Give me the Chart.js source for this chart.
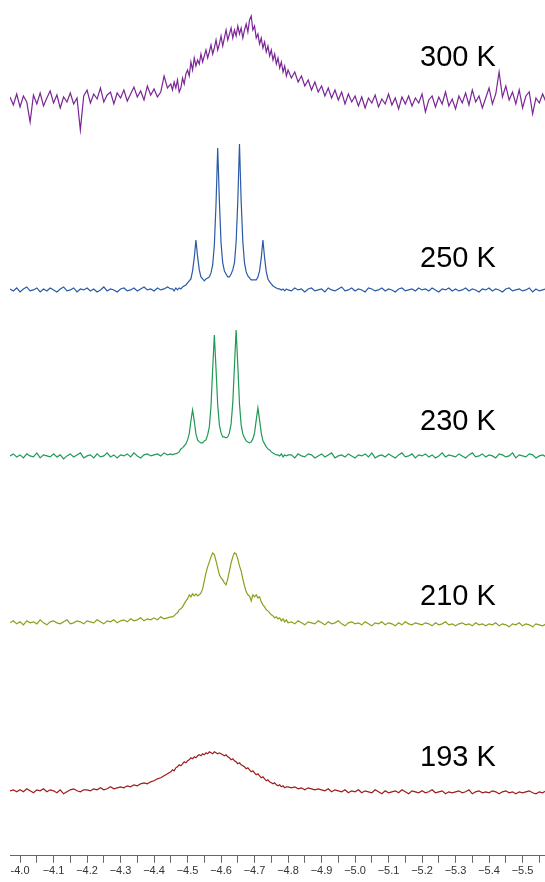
<!DOCTYPE html>
<html>
<head>
<meta charset="utf-8">
<script src="https://cdn.jsdelivr.net/npm/chart.js@4.4.1/dist/chart.umd.min.js"></script>
<style>
    html, body { margin: 0; padding: 0; background: #ffffff; }
    #wrap { position: relative; width: 545px; height: 882px; }
</style>
</head>
<body>
<div id="wrap"><canvas id="myChart"></canvas></div>
<script>
/* chemical shift (ppm), shared by all spectra */
const shift = [
    -3.97, -3.98, -3.99,
    -4.00, -4.01, -4.02, -4.03, -4.04, -4.05, -4.06, -4.07, -4.08, -4.09,
    -4.10, -4.11, -4.12, -4.13, -4.14, -4.15, -4.16, -4.17, -4.18, -4.19,
    -4.20, -4.21, -4.22, -4.23, -4.24, -4.25, -4.26, -4.27, -4.28, -4.29,
    -4.30, -4.31, -4.32, -4.33, -4.34, -4.35, -4.36, -4.37, -4.38, -4.39,
    -4.40, -4.41, -4.42, -4.43, -4.44, -4.45,
    -4.455, -4.46, -4.465, -4.47, -4.475, -4.48, -4.485, -4.49, -4.495, -4.50,
    -4.505, -4.51, -4.515, -4.52, -4.525, -4.53, -4.535, -4.54, -4.545, -4.55,
    -4.555, -4.56, -4.565, -4.57, -4.575, -4.58, -4.585, -4.59, -4.595, -4.60,
    -4.605, -4.61, -4.615, -4.62, -4.625, -4.63, -4.635, -4.64, -4.645, -4.65,
    -4.655, -4.66, -4.665, -4.67, -4.675, -4.68, -4.685, -4.69, -4.695, -4.70,
    -4.705, -4.71, -4.715, -4.72, -4.725, -4.73, -4.735, -4.74, -4.745, -4.75,
    -4.755, -4.76, -4.765, -4.77, -4.775, -4.78, -4.785, -4.79, -4.795, -4.80,
    -4.81, -4.82, -4.83, -4.84, -4.85, -4.86, -4.87, -4.88, -4.89,
    -4.90, -4.91, -4.92, -4.93, -4.94, -4.95, -4.96, -4.97, -4.98, -4.99,
    -5.00, -5.01, -5.02, -5.03, -5.04, -5.05, -5.06, -5.07, -5.08, -5.09,
    -5.10, -5.11, -5.12, -5.13, -5.14, -5.15, -5.16, -5.17, -5.18, -5.19,
    -5.20, -5.21, -5.22, -5.23, -5.24, -5.25, -5.26, -5.27, -5.28, -5.29,
    -5.30, -5.31, -5.32, -5.33, -5.34, -5.35, -5.36, -5.37, -5.38, -5.39,
    -5.40, -5.41, -5.42, -5.43, -5.44, -5.45, -5.46, -5.47, -5.48, -5.49,
    -5.50, -5.51, -5.52, -5.53, -5.54, -5.55, -5.56, -5.57
];

/* intensities (arbitrary units) */
const k300 = [
    3, -5, 6,
    -7, 4, -2, -22, 5, -4, 7, -6, 2, 9,
    -3, 5, -8, 3, -2, 7, -4, 2, -30, 4,
    10, -3, 6, 1, 12, -2, 5, 8, -4, 7,
    2, 10, -1, 6, 13, 3, 9, 0, 14, 5,
    11, 3, 8, 24, 12, 16,
    10, 18, 12, 20, 8, 12, 22, 16, 26, 30,
    24, 38, 30, 42, 34, 40, 36, 46, 38, 44,
    50, 42, 48, 55, 46, 52, 60, 50, 56, 64,
    54, 62, 70, 60, 66, 72, 62, 70, 64, 74,
    66, 72, 62, 70, 76, 68, 80, 84, 70, 74,
    62, 66, 56, 62, 52, 58, 48, 54, 44, 50,
    40, 46, 36, 42, 32, 38, 28, 34, 24, 30,
    22, 28, 18, 24, 14, 20, 10, 18, 8,
    14, 4, 12, 2, 10, 0, 8, -4, 6, -2,
    4, -6, 3, -8, 2, -3, 5, -7, 1, -4,
    6, -5, 2, -9, 3, -4, 4, -6, 2, -3,
    6, -12, 0, 4, -7, 3, -4, 8, -6, 1,
    -9, 4, -3, 7, -5, 10, -2, 4, -8, 2,
    12, -4, 6, 28, 3, 14, 0, 8, -4, 10,
    -8, 4, 8, -14, 2, -3, 6, -2
];

const k250 = [
    1, -1, 2,
    -2, 1, 3, -1, 0, 2, -2, 1, -1, 2,
    0, -2, 1, 3, -1, 0, 2, -2, 1, 0,
    2, -1, 1, -2, 0, 3, -1, 1, 0, -2,
    1, 2, -1, 0, 2, -1, 1, 3, 0, 1,
    -1, 2, 0, 1, 3, 1,
    1, -1, 2, 0, 2, 1, 3, 4, 5, 7,
    9, 11, 19, 32, 50, 33, 20, 13, 11, 9,
    11, 12, 13, 17, 25, 45, 86, 142, 89, 47,
    27, 19, 16, 13, 13, 16, 20, 27, 48, 89,
    146, 89, 48, 27, 18, 14, 12, 10, 10, 10,
    10, 13, 19, 32, 50, 32, 18, 11, 8, 6,
    4, 3, 2, 1, 1, 0, 1, -1, 1, 0,
    -1, 2, 0, 1, -2, 1, 2, -1, 0,
    1, -2, 2, 0, -1, 1, 3, -1, 0, 2,
    -1, 1, 0, -2, 2, 1, -1, 0, 2, -1,
    1, 0, -2, 1, 2, -1, 0, 1, -1, 2,
    0, 1, -1, 2, 0, -2, 1, 0, 2, -1,
    1, -1, 0, 2, -1, 1, 0, -2, 1, 0,
    2, -1, 1, 0, -2, 1, 2, -1, 0, 1,
    -1, 0, 2, -2, 1, -1, 0, 1
];

const k230 = [
    0, 2, -1,
    1, -2, 2, 0, -1, 3, -2, 1, 0, -1,
    2, -1, 1, -3, 0, 2, -1, 1, 3, -2,
    0, 1, -2, 2, -1, 0, 3, -1, 1, -2,
    1, 0, 2, -1, 3, 0, -2, 1, 2, 0,
    1, 2, 0, 3, 1, 2,
    1, 2, 2, 3, 4, 7, 8, 10, 12, 16,
    22, 35, 46, 35, 22, 16, 14, 13, 13, 15,
    16, 21, 29, 50, 87, 121, 87, 51, 31, 23,
    19, 19, 18, 19, 23, 32, 53, 90, 126, 91,
    52, 31, 22, 18, 15, 14, 13, 14, 17, 23,
    36, 48, 36, 23, 15, 12, 9, 7, 6, 4,
    3, 2, 1, 1, 0, 2, -1, 1, 0, 1,
    1, -2, 2, 0, -1, 2, 1, -2, 0,
    2, -1, 1, 3, -2, 0, 1, -1, 2, 0,
    -2, 1, 0, 2, -1, 3, -2, 0, 1, -1,
    2, 0, -2, 1, 3, -1, 0, 2, -2, 1,
    0, 2, -1, 1, -2, 0, 3, -1, 1, 0,
    -1, 2, 0, -2, 1, 3, -1, 0, 2, -1,
    1, 0, -2, 2, 1, -1, 0, 3, -2, 1,
    0, -1, 2, 1, -2, 0, 1, -1
];

const k210 = [
    0, 2, -1,
    1, -2, 2, 0, 1, -1, 3, 0, -2, 1,
    2, 0, -1, 1, 3, -1, 0, 2, 1, -1,
    2, 1, 0, 3, 1, -1, 2, 1, 3, 0,
    2, 3, 1, 4, 2, 3, 5, 2, 4, 3,
    5, 3, 6, 4, 5, 6,
    6, 7, 9, 10, 13, 14, 16, 19, 22, 24,
    28, 26, 29, 27, 29, 27, 28, 30, 34, 42,
    50, 56, 61, 66, 70, 68, 62, 55, 48, 45,
    43, 40, 38, 44, 52, 60, 66, 70, 69, 64,
    57, 52, 44, 37, 31, 28, 27, 22, 28, 26,
    28, 25, 26, 21, 18, 16, 13, 12, 10, 8,
    7, 5, 6, 4, 5, 2, 4, 1, 3, 0,
    1, -1, 2, 0, -2, 1, 0, -1, 2,
    0, -2, 1, -1, 0, 2, -1, -3, 0, 1,
    -1, 0, -2, 1, -1, -3, 0, -1, 1, -2,
    0, -1, -3, 0, -2, 1, -1, -2, 0, -1,
    -2, 0, -1, -3, 0, -2, -1, 1, -2, -1,
    -3, -1, 0, -2, -1, -3, 0, -2, -1, -3,
    -1, -2, 0, -3, -1, -2, -4, -1, -2, 0,
    -3, -1, -2, -4, -1, -2, -3, -1
];

const k193 = [
    0, 1, -1,
    1, -1, 2, 0, -2, 1, 0, 2, -1, 1,
    0, -2, 1, -3, -1, 1, 2, 0, -1, 1,
    1, 0, 2, 1, 3, 1, 2, 4, 2, 3,
    4, 3, 5, 4, 6, 5, 7, 8, 7, 9,
    10, 12, 13, 15, 17, 19,
    21, 20, 23, 24, 26, 25, 27, 29, 28, 30,
    31, 33, 32, 34, 33, 35, 36, 35, 37, 36,
    38, 37, 39, 38, 37, 39, 38, 37, 38, 37,
    36, 35, 36, 34, 33, 31, 32, 30, 29, 27,
    28, 26, 25, 24, 22, 23, 21, 19, 20, 18,
    16, 17, 15, 13, 14, 12, 10, 11, 9, 8,
    7, 8, 6, 5, 6, 4, 5, 3, 4, 4,
    3, 4, 2, 3, 1, 3, 2, 1, 2,
    1, 0, 2, -1, 1, 0, -1, 1, -2, 0,
    -1, 1, -2, 0, -1, -2, 1, -1, -3, 0,
    -2, -1, 0, -2, 1, -1, -3, 0, -1, -2,
    0, -2, -1, 1, -2, -1, 0, -3, -1, -2,
    -1, 0, -2, -1, 1, -3, -1, 0, -2, -1,
    -2, 0, -1, -3, -1, 0, -2, -1, -3, -1,
    -2, -1, 0, -2, -3, -1, -2, 0
];

const temps = ['300 K', '250 K', '230 K', '210 K', '193 K'];
const tickValues = [-4.0, -4.1, -4.2, -4.3, -4.4, -4.5, -4.6, -4.7, -4.8, -4.9, -5.0, -5.1, -5.2, -5.3, -5.4, -5.5];

/* one stacked y axis per spectrum, top to bottom */
const bands = [
    { id: 'y300', values: k300, color: '#7b2596', min: -35, max: 100, weight: 135, labelLift: 34 },
    { id: 'y250', values: k250, color: '#2a5aa6', min: -10, max: 155, weight: 165, labelLift: 23 },
    { id: 'y230', values: k230, color: '#1f9a55', min: -12, max: 156, weight: 168, labelLift: 26 },
    { id: 'y210', values: k210, color: '#8c9e1c', min: -17, max: 155, weight: 172, labelLift: 18 },
    { id: 'y193', values: k193, color: '#9c1c1c', min: -65, max: 151, weight: 216, labelLift: 25 }
];
const labelShift = -5.194;

function toPoints(values) {
    let pts = [];
    for (let i = 0; i < shift.length; i++) {
        pts.push({ x: shift[i], y: values[i] });
    }
    return pts;
}

let datasets = [];
let scales = {
    x: {
        type: 'linear',
        position: 'bottom',
        reverse: true,
        min: -5.567,
        max: -3.970,
        afterBuildTicks: function (axis) {
            axis.ticks = axis.ticks.filter(function (t) {
                let v = t.value * 20;
                return Math.abs(v - Math.round(v)) < 1e-6;
            });
        },
        ticks: {
            stepSize: 0.05,
            includeBounds: false,
            autoSkip: false,
            maxRotation: 0,
            padding: 2,
            color: '#333333',
            font: { family: 'Liberation Sans, Arial', size: 11 },
            callback: function (value) {
                let hit = tickValues.find(function (t) { return Math.abs(t - value) < 1e-6; });
                if (hit === undefined) return '';
                let s = Math.abs(hit).toFixed(1);
                return (hit === -4.0 ? '-' : '\u2212') + s;
            }
        },
        grid: { display: true, drawOnChartArea: false, drawTicks: true, tickLength: 7, color: '#666666' },
        border: { display: true, color: '#666666', width: 1 }
    }
};

for (let i = 0; i < bands.length; i++) {
    let b = bands[i];
    if (b.values.length !== shift.length) console.error(b.id + ' length ' + b.values.length + ' vs ' + shift.length);
    datasets.push({
        label: temps[i],
        data: toPoints(b.values),
        yAxisID: b.id,
        borderColor: b.color,
        borderWidth: 1.2,
        pointRadius: 0,
        tension: 0,
        fill: false
    });
}

/* the layout stacks the last-added axis on top, so add them bottom-up */
for (let i = bands.length - 1; i >= 0; i--) {
    let b = bands[i];
    scales[b.id] = {
        type: 'linear',
        display: false,
        position: 'left',
        stack: 'nmr',
        stackWeight: b.weight,
        offset: false,
        min: b.min,
        max: b.max
    };
}

/* temperature labels next to each trace */
const tempLabelPlugin = {
    id: 'tempLabels',
    afterDatasetsDraw: function (chart) {
        let ctx = chart.ctx;
        ctx.save();
        ctx.fillStyle = '#000000';
        ctx.font = '29px "Liberation Sans", Arial, sans-serif';
        ctx.textAlign = 'left';
        ctx.textBaseline = 'alphabetic';
        let px = chart.scales.x.getPixelForValue(labelShift);
        for (let i = 0; i < bands.length; i++) {
            let py = chart.scales[bands[i].id].getPixelForValue(bands[i].labelLift);
            ctx.fillText(temps[i], px, py);
        }
        ctx.restore();
    }
};

let ctx = document.getElementById('myChart').getContext('2d');

let myChart = new Chart(ctx, {
    type: 'line',
    data: { datasets: datasets },
    options: {
        responsive: true,
        maintainAspectRatio: false,
        animation: false,
        parsing: true,
        layout: { padding: { left: 10, right: 0, top: 0, bottom: 2 } },
        scales: scales,
        plugins: {
            legend: { display: false },
            tooltip: { enabled: false }
        }
    },
    plugins: [tempLabelPlugin]
});
</script>
</body>
</html>
